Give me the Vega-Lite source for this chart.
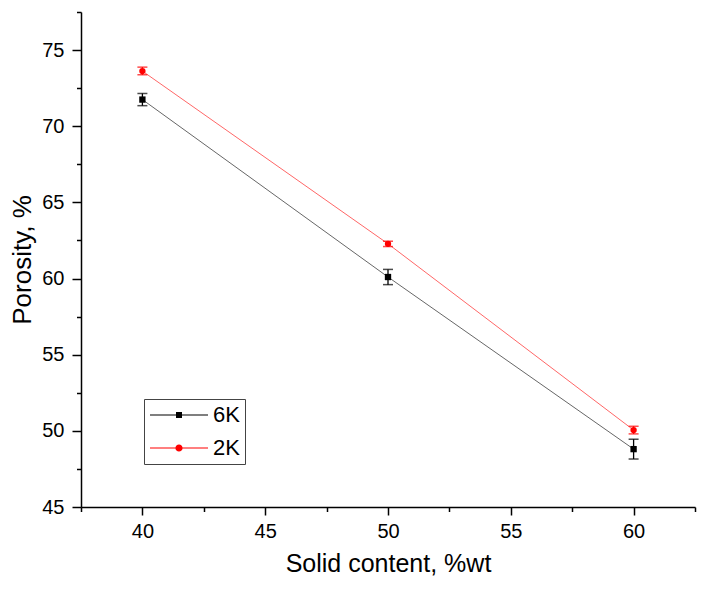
{
  "$schema": "https://vega.github.io/schema/vega-lite/v6.json",
  "width": 614,
  "height": 495,
  "autosize": {"type": "none"},
  "padding": {"left": 81, "top": 12, "right": 12, "bottom": 87},
  "background": "white",
  "config": {
    "view": {"stroke": null},
    "font": "Liberation Sans",
    "axis": {
      "domainColor": "black",
      "domainWidth": 1.5,
      "tickColor": "black",
      "tickWidth": 1.5,
      "grid": false,
      "labelFont": "Liberation Sans",
      "labelColor": "black",
      "titleFont": "Liberation Sans",
      "titleColor": "black",
      "titleFontWeight": "normal"
    }
  },
  "data": {
    "values": [
      {"solid": 40, "porosity": 71.75, "lo": 71.35, "hi": 72.15, "series": "6K"},
      {"solid": 50, "porosity": 60.1, "lo": 59.6, "hi": 60.6, "series": "6K"},
      {"solid": 60, "porosity": 48.8, "lo": 48.15, "hi": 49.45, "series": "6K"},
      {"solid": 40, "porosity": 73.62, "lo": 73.38, "hi": 73.88, "series": "2K"},
      {"solid": 50, "porosity": 62.28, "lo": 62.1, "hi": 62.45, "series": "2K"},
      {"solid": 60, "porosity": 50.05, "lo": 49.8, "hi": 50.3, "series": "2K"}
    ]
  },
  "resolve": {"axis": {"x": "independent", "y": "independent"}},
  "layer": [
    {
      "encoding": {
        "x": {
          "field": "solid", "type": "quantitative",
          "scale": {"domain": [37.5, 62.5], "nice": false, "zero": false},
          "axis": {"orient": "bottom", "values": [40, 45, 50, 55, 60], "tickSize": 8, "labelFontSize": 20, "labelPadding": 6, "title": "Solid content, %wt", "titleFontSize": 25, "titlePadding": 10}
        },
        "y": {
          "field": "porosity", "type": "quantitative",
          "scale": {"domain": [45, 77.5], "nice": false, "zero": false},
          "axis": {"orient": "left", "values": [45, 50, 55, 60, 65, 70, 75], "tickSize": 9, "labelFontSize": 20, "labelPadding": 8, "title": "Porosity, %", "titleFontSize": 26, "titlePadding": 6}
        },
        "color": {
          "field": "series", "type": "nominal", "title": null,
          "scale": {"domain": ["6K", "2K"], "range": ["#000000", "#ff0000"]},
          "legend": {
            "orient": "none",
            "legendX": 63,
            "legendY": 387,
            "padding": 5,
            "strokeColor": "#444444",
            "fillColor": "white",
            "labelFont": "Liberation Sans",
            "labelFontSize": 22,
            "labelColor": "black",
            "rowPadding": 11,
            "symbolSize": 64,
            "symbolStrokeWidth": 0,
            "symbolOpacity": 1,
            "symbolOffset": 19,
            "labelOffset": 23,
            "symbolType": "M-7.25,-0.12H7.25V0.12H-7.25Z M-0.75,-0.75H0.75V0.75H-0.75Z",
            "encode": {
              "symbols": {
                "update": {
                  "opacity": {"value": 1},
                  "fillOpacity": {"value": 1},
                  "strokeWidth": {"value": 0},
                  "shape": {"signal": "datum.value === '6K' ? 'M-7.25,-0.12H7.25V0.12H-7.25Z M-0.75,-0.75H0.75V0.75H-0.75Z' : 'M-7.25,-0.12H7.25V0.12H-7.25Z M-0.9,0A0.9,0.9,0,1,1,0.9,0A0.9,0.9,0,1,1,-0.9,0Z'"}
                }
              }
            }
          }
        }
      },
      "layer": [
        {
          "mark": {"type": "line", "strokeWidth": 1, "opacity": 0.6}
        },
        {
          "mark": {"type": "rule", "strokeWidth": 1.3},
          "encoding": {
            "y": {"field": "lo", "type": "quantitative"},
            "y2": {"field": "hi"}
          }
        },
        {
          "mark": {"type": "tick", "orient": "horizontal", "size": 10, "thickness": 1.5},
          "encoding": {
            "y": {"field": "lo", "type": "quantitative"}
          }
        },
        {
          "mark": {"type": "tick", "orient": "horizontal", "size": 10, "thickness": 1.5},
          "encoding": {
            "y": {"field": "hi", "type": "quantitative"}
          }
        },
        {
          "transform": [{"filter": "datum.series === '6K'"}],
          "mark": {"type": "point", "filled": true, "opacity": 1, "size": 40, "shape": "square"}
        },
        {
          "transform": [{"filter": "datum.series === '2K'"}],
          "mark": {"type": "point", "filled": true, "opacity": 1, "size": 40, "shape": "circle"}
        }
      ]
    },
    {
      "mark": {"type": "point", "opacity": 0},
      "encoding": {
        "x": {
          "field": "solid", "type": "quantitative",
          "axis": {"orient": "bottom", "values": [37.5, 42.5, 47.5, 52.5, 57.5, 62.5], "labels": false, "domain": false, "tickSize": 4.5, "title": null}
        },
        "y": {
          "field": "porosity", "type": "quantitative",
          "axis": {"orient": "left", "values": [47.5, 52.5, 57.5, 62.5, 67.5, 72.5, 77.5], "labels": false, "domain": false, "tickSize": 4.5, "title": null}
        }
      }
    }
  ]
}
